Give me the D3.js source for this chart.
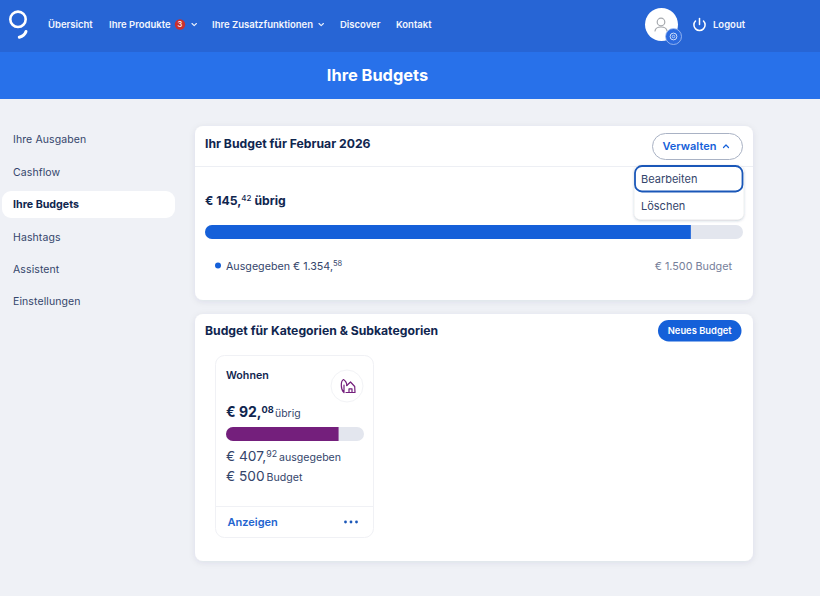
<!DOCTYPE html>
<html><head><meta charset="utf-8">
<script src="https://cdn.jsdelivr.net/npm/d3@7"></script>
<style>html,body{margin:0;padding:0;background:#eff1f6;overflow:hidden}svg{display:block}text{font-family:Inter,sans-serif}</style>
</head><body><svg id="c" width="820" height="596"></svg>
<script>
const navLabels=["Übersicht","Ihre Produkte","Ihre Zusatzfunktionen","Discover","Kontakt"];
const navX=[48,109,212,340,396];
const sideLabels=["Ihre Ausgaben","Cashflow","Ihre Budgets","Hashtags","Assistent","Einstellungen"];
const totalBudget=1500, totalSpent=1354.58;
const catBudget=500, catSpent=407.92;

const svg=d3.select("#c");
const ink="#10264f", body="#34456b", blue="#1560d9", track="#e3e6ee";
function rect(x,y,w,h,r,fill,extra={}){const s=svg.append("rect").attr("x",x).attr("y",y).attr("width",w).attr("height",h).attr("rx",r).attr("fill",fill);Object.entries(extra).forEach(([k,v])=>s.attr(k,v));return s;}
function text(x,y,parts,opt={}){
  const t=svg.append("text").attr("x",x).attr("y",y).attr("fill",opt.fill||ink).attr("font-size",opt.size||12).attr("font-weight",opt.weight||400).attr("text-anchor",opt.anchor||"start");
  if(opt.ls)t.attr("letter-spacing",opt.ls);
  (Array.isArray(parts)?parts:[parts]).forEach(p=>{
    if(typeof p==="string")t.append("tspan").text(p);
    else{const s=t.append("tspan").text(p.t);if(p.size)s.attr("font-size",p.size);if(p.dy)s.attr("dy",p.dy);if(p.weight)s.attr("font-weight",p.weight);if(p.fill)s.attr("fill",p.fill);if(p.dx)s.attr("dx",p.dx);}
  });
  return t;
}
function path(d,stroke,w=1.5,fill="none"){return svg.append("path").attr("d",d).attr("stroke",stroke).attr("stroke-width",w).attr("fill",fill).attr("stroke-linecap","round").attr("stroke-linejoin","round");}

const defs=svg.append("defs");
const f=defs.append("filter").attr("id","sh").attr("x","-5%").attr("y","-5%").attr("width","110%").attr("height","115%");
f.append("feDropShadow").attr("dx",0).attr("dy",1.5).attr("stdDeviation",3).attr("flood-color","#1a2a50").attr("flood-opacity",0.09);
const f2=defs.append("filter").attr("id","sh2").attr("x","-10%").attr("y","-10%").attr("width","120%").attr("height","125%");
f2.append("feDropShadow").attr("dx",0).attr("dy",1).attr("stdDeviation",1.6).attr("flood-color","#1a2a50").attr("flood-opacity",0.28);

// background and header
rect(0,0,820,596,0,"#eff1f6");
rect(0,0,820,52,0,"#2765d5");
rect(0,52,820,47,0,"#2871ea");
text(377.5,81,"Ihre Budgets",{fill:"#fff",size:16.4,weight:700,anchor:"middle"});

// logo
svg.append("circle").attr("cx",18).attr("cy",19.3).attr("r",7.7).attr("fill","none").attr("stroke","#fff").attr("stroke-width",2.6);
path("M26 31.5 Q24.5 36 19.3 37.2","#fff",3);

// nav
navLabels.forEach((l,i)=>text(navX[i],28,l,{fill:"#f3f6fd",size:9.5,weight:600}));
svg.append("circle").attr("cx",180).attr("cy",24.5).attr("r",5.2).attr("fill","#c8302f");
text(180,27.3,"3",{fill:"#fff",size:7.6,weight:500,anchor:"middle"});
path("M192 23.5 L194.2 25.7 L196.4 23.5","#eef3fd",1.1);
path("M319 23.5 L321.2 25.7 L323.4 23.5","#eef3fd",1.1);

// avatar
svg.append("circle").attr("cx",661.5).attr("cy",24.5).attr("r",16.5).attr("fill","#fff");
svg.append("circle").attr("cx",661).attr("cy",22).attr("r",3.8).attr("fill","none").attr("stroke","#a5a8ad").attr("stroke-width",1.2);
path("M655 31 Q655.5 27 661 27 Q666.5 27 667 31","#a5a8ad",1.2);
svg.append("circle").attr("cx",673.5).attr("cy",36.5).attr("r",8).attr("fill","#2b6adf").attr("stroke","#a9c3f2").attr("stroke-width",.8);
svg.append("circle").attr("cx",673.5).attr("cy",36.5).attr("r",3.4).attr("fill","none").attr("stroke","#cfdefa").attr("stroke-width",1);
svg.append("circle").attr("cx",673.5).attr("cy",36.5).attr("r",1.3).attr("fill","none").attr("stroke","#cfdefa").attr("stroke-width",.8);
// logout
path("M695.5 21 A5.6 5.6 0 1 0 703.5 21","#fff",1.5);
path("M699.5 18.5 V24.5","#fff",1.5);
text(713,28,"Logout",{fill:"#f3f6fd",size:9.5,weight:600});

// sidebar
rect(2,191,173,27,9,"#fff");
sideLabels.forEach((l,i)=>{const active=i===2;
  text(13,143.3+i*32.4,l,{fill:active?ink:body,size:active?10.7:10.5,weight:active?700:400,ls:active?0:.1});});

// card 1
rect(195,126,558,174,8,"#fff",{filter:"url(#sh)"});
svg.append("line").attr("x1",195).attr("x2",753).attr("y1",166.5).attr("y2",166.5).attr("stroke","#edeff4");
text(205,147.5,"Ihr Budget für Februar 2026",{size:12.2,weight:700});
rect(652.5,133.5,90,26,13,"#fff",{stroke:"#a9b2c4","stroke-width":1});
text(662.5,150,"Verwalten",{fill:blue,size:11,weight:600});
path("M723.5 147.5 L726 145 L728.5 147.5",blue,1.2);

text(205,205,["€ 145,",{t:"42",size:8,dy:-4,weight:500},{t:" übrig",dy:4}],{size:12.2,weight:700});

const xTotal=d3.scaleLinear().domain([0,totalBudget]).range([205,743]);
rect(xTotal(0),225,xTotal(totalBudget)-xTotal(0),14,7,track);
svg.append("path").attr("fill",blue).attr("d",`M${xTotal(0)+7} 225 H${xTotal(totalSpent)} V239 H${xTotal(0)+7} A7 7 0 0 1 ${xTotal(0)+7} 225 Z`);

svg.append("circle").attr("cx",218).attr("cy",265.5).attr("r",3).attr("fill",blue);
text(226,269.5,["Ausgegeben € 1.354,",{t:"58",size:7.5,dy:-3.5}],{fill:body,size:10.7});
text(732,269.5,"€ 1.500 Budget",{fill:"#76809a",size:10.8,anchor:"end"});

// dropdown
rect(634.5,165.5,109,54,6,"#fff",{filter:"url(#sh2)"});
rect(635,166,107.5,25.5,7,"#fff",{stroke:"#1a57b8","stroke-width":1.8});
text(641,183,"Bearbeiten",{fill:body,size:11});
text(641,210,"Löschen",{fill:body,size:11});

// card 2
rect(195,314,558,247,8,"#fff",{filter:"url(#sh)"});
text(205,335,"Budget für Kategorien & Subkategorien",{size:12.2,weight:700});
rect(658,320,83.5,21.5,10.7,blue);
text(699.7,334.3,"Neues Budget",{fill:"#fff",size:9.4,weight:600,anchor:"middle"});

// category tile
rect(215.5,355.5,158,182,9,"#fff",{stroke:"#f0f1f5","stroke-width":1});
text(226,379,"Wohnen",{size:10.7,weight:600});
svg.append("circle").attr("cx",347).attr("cy",386).attr("r",16).attr("fill","#fff").attr("stroke","#f2f3f6");
const purple="#741f7c";
// tree
path("M344 392.5 C340.5 389.5 340.5 381 343.5 379.5 C345.5 380.5 347 383.5 346.8 385.5 M344 385 V392.5",purple,1.2);
// house
path("M346 392.5 H355 L354.7 386.5 L350.5 382 L346.8 385.5 M349 392.5 V388.8 H352 V392.5",purple,1.2);

text(226,417,["€ 92,",{t:"08",size:9.2,dy:-4.5},{t:" übrig",size:10.4,weight:400,fill:body,dy:4.5,dx:-1.5}],{size:14,weight:700});

const xCat=d3.scaleLinear().domain([0,catBudget]).range([226,364]);
rect(xCat(0),427,xCat(catBudget)-xCat(0),14,7,track);
svg.append("path").attr("fill",purple).attr("d",`M${xCat(0)+7} 427 H${xCat(catSpent)} V441 H${xCat(0)+7} A7 7 0 0 1 ${xCat(0)+7} 427 Z`);

text(226,461,["€ 407,",{t:"92",size:8.8,dy:-4.5},{t:" ausgegeben",size:10.6,dy:4.5,dx:-1}],{fill:body,size:13.7});
text(226,481,["€ 500",{t:" Budget",size:10.6,dx:-1}],{fill:body,size:13.7});

svg.append("line").attr("x1",216).attr("x2",373).attr("y1",506.5).attr("y2",506.5).attr("stroke","#f0f1f5");
text(227.5,526,"Anzeigen",{fill:"#2364cf",size:11,weight:600});
[345.5,351,356.5].forEach(x=>svg.append("circle").attr("cx",x).attr("cy",522).attr("r",1.4).attr("fill","#1b57b8"));
</script></body></html>
